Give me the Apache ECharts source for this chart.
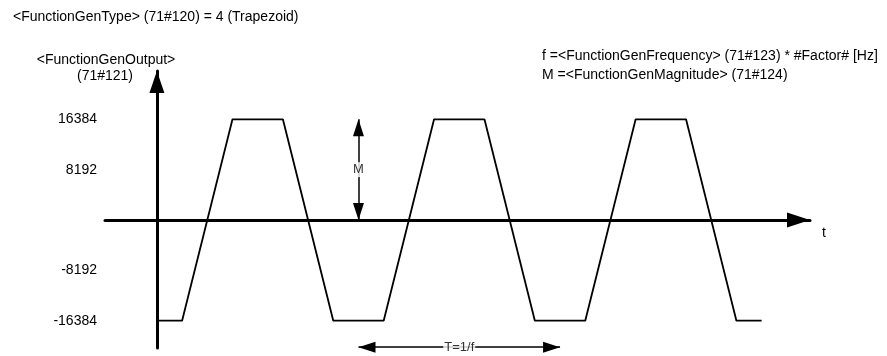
<!DOCTYPE html>
<html>
<head>
<meta charset="utf-8">
<script src="https://cdn.jsdelivr.net/npm/echarts@6/dist/echarts.min.js"></script>
<style>
  html, body { margin: 0; padding: 0; background: #fff; }
  #main { width: 887px; height: 356px; }
</style>
</head>
<body>
<div id="main"></div>
<script>
// waveform corner points (time in quarter periods / 2, output value)
const timePoints = [0, 0.5, 1.5, 2.5, 3.5, 4.5, 5.5, 6.5, 7.5, 8.5, 9.5, 10.5, 11.5, 12];
const outputValues = [-16384, -16384, 16384, 16384, -16384, -16384, 16384, 16384, -16384, -16384, 16384, 16384, -16384, -16384];
const tickValues = [-16384, -8192, 8192, 16384];

// annotations
const magnitudeArrow = [[4, 16384], [4, 0]];
const periodArrow = [[4, -20700], [8, -20700]];
const noteLabels = [
  { name: 'M', value: [4, 8192] },
  { name: 'T=1/f', value: [6, -20700] }
];

const titleText = '<FunctionGenType> (71#120) = 4 (Trapezoid)';
const yName = ['<FunctionGenOutput>', '(71#121)'];
const formulaLines = [
  'f =<FunctionGenFrequency> (71#123) * #Factor# [Hz]',
  'M =<FunctionGenMagnitude> (71#124)'
];

const font = '"Liberation Sans", Arial, sans-serif';

let chartDom = document.getElementById('main');
let myChart = echarts.init(chartDom, null, { renderer: 'canvas' });
let option;

option = {
  animation: false,
  backgroundColor: '#fff',
  grid: { left: 105, right: 77, top: 71, bottom: 8, containLabel: false, outerBoundsMode: 'none' },
  xAxis: {
    type: 'value',
    min: -1.03,
    max: 12.96,
    axisLine: {
      onZero: true,
      symbol: ['none', 'triangle'],
      symbolSize: [15, 23],
      symbolOffset: [0, -11.5],
      lineStyle: { color: '#000', width: 3 }
    },
    axisTick: { show: false },
    axisLabel: { show: false },
    splitLine: { show: false }
  },
  yAxis: {
    type: 'value',
    min: -20826,
    max: 24242,
    axisLine: {
      onZero: true,
      symbol: ['none', 'triangle'],
      symbolSize: [15, 22],
      symbolOffset: [0, -11],
      lineStyle: { color: '#000', width: 3 }
    },
    axisTick: { show: false },
    splitLine: { show: false },
    axisLabel: {
      customValues: tickValues,
      formatter: v => String(v),
      margin: 8,
      color: '#000',
      fontFamily: font,
      fontSize: 14
    }
  },
  graphic: [
    { type: 'text', x: 13, y: 17, style: { text: titleText, font: '14px ' + font, fill: '#000', verticalAlign: 'middle' } },
    { type: 'text', x: 106, y: 60, style: { text: yName[0], font: '14px ' + font, fill: '#000', align: 'center', verticalAlign: 'middle' } },
    { type: 'text', x: 105, y: 76, style: { text: yName[1], font: '14px ' + font, fill: '#000', align: 'center', verticalAlign: 'middle' } },
    { type: 'text', x: 542, y: 56, style: { text: formulaLines[0], font: '14px ' + font, fill: '#000', verticalAlign: 'middle' } },
    { type: 'text', x: 542, y: 75, style: { text: formulaLines[1], font: '14px ' + font, fill: '#000', verticalAlign: 'middle' } },
    { type: 'text', x: 824, y: 233, style: { text: 't', font: '14px ' + font, fill: '#000', align: 'center', verticalAlign: 'middle' } }
  ],
  series: [
    {
      name: 'output',
      type: 'line',
      data: timePoints.map((t, i) => [t, outputValues[i]]),
      symbol: 'none',
      lineStyle: { color: '#000', width: 1.8 },
      z: 3,
      markLine: {
        silent: true,
        symbol: ['triangle', 'triangle'],
        symbolSize: [11, 17],
        symbolOffset: [[0, '50%'], [0, '50%']],
        label: { show: false },
        lineStyle: { color: '#000', width: 1.5, type: 'solid' },
        data: [
          [{ coord: magnitudeArrow[0] }, { coord: magnitudeArrow[1] }],
          [{ coord: periodArrow[0] }, { coord: periodArrow[1] }]
        ]
      }
    },
    {
      name: 'notes',
      type: 'scatter',
      data: noteLabels,
      symbolSize: 0,
      z: 5,
      label: {
        show: true,
        position: 'inside',
        formatter: p => p.name,
        color: '#000',
        fontFamily: font,
        fontSize: 13,
        backgroundColor: '#fff',
        padding: [1, 1]
      }
    }
  ]
};
option && myChart.setOption(option);
</script>
</body>
</html>
